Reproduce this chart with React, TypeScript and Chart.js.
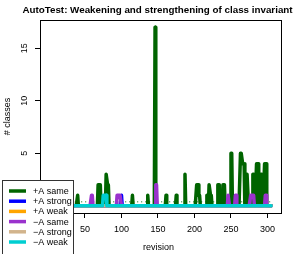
import React, { useEffect, useRef } from "react";
import { Chart, registerables } from "chart.js";

Chart.register(...registerables);

// ---- data ----
const firstRevision = 1;
const lastRevision = 306;

const seriesNames = ["+A same", "+A strong", "+A weak", "\u2212A same", "\u2212A strong", "\u2212A weak"];
const seriesColors = ["#006400", "#0000FF", "#FFA500", "#9A32CD", "#D2B48C", "#00CED1"];

// non-zero entries (revision, value); every other revision is 0
const plusSameRevs = [40, 68, 69, 70, 71, 79, 80, 81, 82, 115, 136, 146, 161, 175, 187, 203, 204, 205, 206, 207, 217, 218, 220, 221, 222, 223, 232, 233, 234, 239, 240, 241, 250, 251, 263, 264, 265, 266, 267, 268, 271, 272, 273, 280, 281, 285, 286, 287, 291, 292, 296, 297, 298];
const plusSameVals = [1, 2, 2, 2, 2, 3, 3, 2, 2, 1, 1, 17, 1, 1, 3, 2, 2, 2, 1, 1, 1, 1, 2, 2, 1, 1, 2, 2, 2, 2, 2, 2, 5, 5, 5, 5, 5, 4, 4, 4, 3, 3, 3, 3, 3, 4, 4, 4, 3, 3, 4, 4, 4];

const plusStrongRevs = [100];
const plusStrongVals = [1];

const plusWeakRevs: number[] = [];
const plusWeakVals: number[] = [];

const minusSameRevs = [59, 60, 94, 95, 96, 97, 98, 99, 147, 148, 246, 247, 256, 257, 277, 278, 279, 280, 281, 297, 298];
const minusSameVals = [1, 1, 1, 1, 1, 1, 1, 1, 2, 2, 1, 1, 1, 1, 1, 1, 1, 1, 1, 1, 1];

const minusStrongRevs: number[] = [];
const minusStrongVals: number[] = [];

const minusWeakRevs = [75, 76, 77, 78, 79];
const minusWeakVals = [1, 1, 1, 1, 1];

const plusSameMean = 0.38;

const xTicks = [0, 50, 100, 150, 200, 250, 300];
const yTicks = [0, 5, 10, 15];

const titleText = "AutoTest: Weakening and strengthening of class invariant";
const xTitle = "revision";
const yTitle = "# classes";

const FONT = "'Liberation Sans', Arial, Helvetica, sans-serif";

function buildSeries(revs: number[], vals: number[]) {
  const out: { x: number; y: number }[] = [];
  for (let r = firstRevision; r <= lastRevision; r++) {
    const i = revs.indexOf(r);
    out.push({ x: r, y: i >= 0 ? vals[i] : 0 });
  }
  return out;
}

const allRevs = [plusSameRevs, plusStrongRevs, plusWeakRevs, minusSameRevs, minusStrongRevs, minusWeakRevs];
const allVals = [plusSameVals, plusStrongVals, plusWeakVals, minusSameVals, minusStrongVals, minusWeakVals];

const decorPlugin = {
  id: "decor",
  afterDraw(chart: any) {
    const ctx = chart.ctx as CanvasRenderingContext2D;
    const a = chart.chartArea;
    const ys = chart.scales.y;
    ctx.save();
    // box
    ctx.strokeStyle = "#000";
    ctx.lineWidth = 1;
    ctx.strokeRect(Math.round(a.left) + 0.5, Math.round(a.top) + 0.5, Math.round(a.right - a.left), Math.round(a.bottom - a.top));
    // y tick labels (rotated)
    ctx.fillStyle = "#000";
    ctx.font = `9px ${FONT}`;
    ctx.textAlign = "center";
    ctx.textBaseline = "middle";
    for (const v of yTicks) {
      const y = ys.getPixelForValue(v);
      ctx.save();
      ctx.translate(25, y);
      ctx.rotate(-Math.PI / 2);
      ctx.fillText(String(v), 0, 0);
      ctx.restore();
    }
    // y title
    ctx.save();
    ctx.translate(8, (a.top + a.bottom) / 2);
    ctx.rotate(-Math.PI / 2);
    ctx.fillText(yTitle, 0, 0);
    ctx.restore();
    // x title
    ctx.fillText(xTitle, (a.left + a.right) / 2 - 2, 248);
    // title
    ctx.font = `bold 9.8px ${FONT}`;
    ctx.fillText(titleText, (a.left + a.right) / 2 - 3, 10);
    // legend
    const lx = 2, ly = 180, lw = 71, lh = 80;
    ctx.fillStyle = "#fff";
    ctx.fillRect(lx, ly, lw, lh);
    ctx.strokeStyle = "#333";
    ctx.lineWidth = 1;
    ctx.strokeRect(lx + 0.5, ly + 0.5, lw, lh);
    ctx.font = `9px ${FONT}`;
    ctx.textAlign = "left";
    for (let i = 0; i < seriesNames.length; i++) {
      const y = 191 + i * 10.2;
      ctx.strokeStyle = seriesColors[i];
      ctx.lineWidth = 3.5;
      ctx.beginPath();
      ctx.moveTo(9, y);
      ctx.lineTo(26, y);
      ctx.stroke();
      ctx.fillStyle = "#000";
      ctx.fillText(seriesNames[i], 33, y + 0.5);
    }
    ctx.restore();
  },
};

export default function App() {
  const ref = useRef<HTMLCanvasElement | null>(null);
  useEffect(() => {
    document.body.style.margin = "0";
    if (!ref.current) return;
    const datasets: any[] = [
      {
        label: "mean",
        data: [
          { x: firstRevision, y: plusSameMean },
          { x: lastRevision, y: plusSameMean },
        ],
        borderColor: seriesColors[0],
        borderWidth: 1,
        borderDash: [1, 3],
        pointRadius: 0,
        order: 10,
      },
    ];
    for (let i = 0; i < seriesNames.length; i++) {
      datasets.push({
        label: seriesNames[i],
        data: buildSeries(allRevs[i], allVals[i]),
        borderColor: seriesColors[i],
        backgroundColor: seriesColors[i],
        borderWidth: 3.5,
        pointRadius: 0,
        tension: 0,
        borderCapStyle: "round",
        borderJoinStyle: "round",
        order: 6 - i,
      });
    }
    const chart = new Chart(ref.current, {
      type: "line",
      data: { datasets },
      options: {
        animation: false,
        responsive: false,
        devicePixelRatio: 1,
        layout: { padding: { top: 20, right: 13, left: 0, bottom: 0 } },
        plugins: { legend: { display: false }, tooltip: { enabled: false }, title: { display: false } },
        scales: {
          x: {
            type: "linear",
            min: -11.6,
            max: 318.5,
            afterBuildTicks: (s: any) => {
              s.ticks = xTicks.map((v) => ({ value: v }));
            },
            afterFit: (s: any) => {
              s.height = 41;
            },
            grid: { drawOnChartArea: false, drawTicks: true, tickLength: 5, color: "#000", lineWidth: 1 },
            border: { display: true, color: "#000" },
            ticks: { color: "#000", font: { family: FONT, size: 9 }, padding: 6, maxRotation: 0, autoSkip: false },
          },
          y: {
            type: "linear",
            min: -0.68,
            max: 17.68,
            afterBuildTicks: (s: any) => {
              s.ticks = yTicks.map((v) => ({ value: v }));
            },
            afterFit: (s: any) => {
              s.width = 40;
            },
            grid: { drawOnChartArea: false, drawTicks: true, tickLength: 5, color: "#000", lineWidth: 1 },
            border: { display: true, color: "#000" },
            ticks: { display: false },
          },
        },
      },
      plugins: [decorPlugin],
    });
    return () => chart.destroy();
  }, []);
  return (
    <div style={{ width: 294, height: 254, position: "relative" }}>
      <canvas ref={ref} width={294} height={254} style={{ display: "block" }} />
    </div>
  );
}
